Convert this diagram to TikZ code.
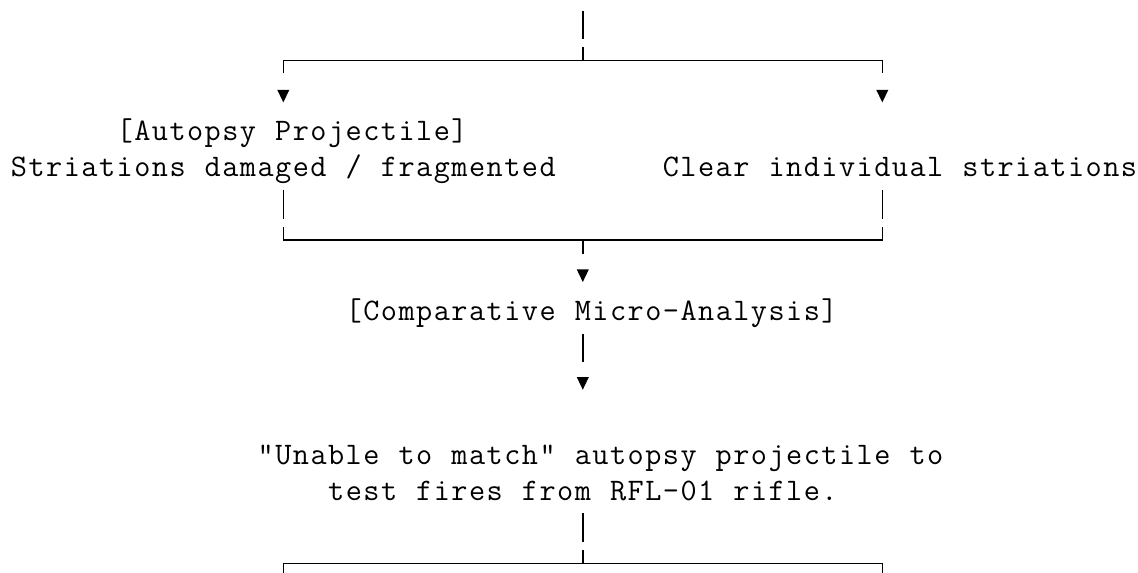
\documentclass[tikz,border=0pt]{standalone}
\ExplSyntaxOn
\NewDocumentCommand\monoline{m}
  { \str_map_inline:nn {#1} { \makebox[13.215pt][c]{##1} } }
\ExplSyntaxOff
\tikzset{
  conn/.style={line width=1.2pt, line join=miter, line cap=butt},
  txt/.style={inner sep=0pt, outer sep=0pt, anchor=base west,
    font=\ttfamily\fontsize{23.5}{28}\selectfont},
  downtri/.pic={\fill (-6,-6.5) -- (6,-6.5) -- (0,6) -- cycle;}
}
\begin{document}
\begin{tikzpicture}[x=0.75pt,y=-0.75pt]
\useasboundingbox (0,0) rectangle (1138,573);
% ---- texts
\node[txt] (autopsy) at (115.9,140.9) {\monoline{[Autopsy Projectile]}};
\node[txt] (damaged) at (10.2,176.8) {\monoline{Striations damaged / fragmented}};
\node[txt] (clear)   at (662.1,176.8) {\monoline{Clear individual striations}};
\node[txt] (compare) at (345.0,320.5) {\monoline{[Comparative Micro-Analysis]}};
\node[txt] (unable1) at (256.9,464.1) {\monoline{"Unable to match" autopsy projectile to}};
\node[txt] (unable2) at (327.4,500.0) {\monoline{test fires from RFL-01 rifle.}};
% ---- junction coordinates
\coordinate (in0) at (582.8,10.6);  \coordinate (in1) at (582.8,39.1);
\coordinate (s1)  at (582.8,47.0);  \coordinate (j1)  at (582.8,60.5);
\coordinate (L1)  at (283.3,60.5);  \coordinate (R1)  at (882.3,60.5);
\coordinate (L1d) at (283.3,73.5);  \coordinate (R1d) at (882.3,73.5);
\coordinate (L5a) at (283.3,190.2); \coordinate (L5b) at (283.3,218.7);
\coordinate (R5a) at (882.3,190.2); \coordinate (R5b) at (882.3,218.7);
\coordinate (L6u) at (283.3,227.1); \coordinate (R6u) at (882.3,227.1);
\coordinate (L6)  at (283.3,240.1); \coordinate (R6)  at (882.3,240.1);
\coordinate (j6)  at (582.8,240.1); \coordinate (j6d) at (582.8,254.1);
\coordinate (m9a) at (582.8,333.8); \coordinate (m9b) at (582.8,362.3);
\coordinate (m14a) at (582.8,513.3); \coordinate (m14b) at (582.8,541.8);
\coordinate (s15) at (582.8,549.8); \coordinate (j15) at (582.8,563.3);
\coordinate (L15) at (283.3,563.3); \coordinate (R15) at (882.3,563.3);
\coordinate (L15d) at (283.3,576.3); \coordinate (R15d) at (882.3,576.3);
% ---- connectors
\draw[conn] (in0) -- (in1);
\draw[conn] (s1) -- (j1);
\draw[conn] (L1d) -- (L1) -- (R1) -- (R1d);
\pic (ta) at (283.3,96.4) {downtri};
\pic (tb) at (882.3,96.4) {downtri};
\draw[conn] (L5a) -- (L5b);
\draw[conn] (R5a) -- (R5b);
\draw[conn] (L6u) -- (L6) -- (R6) -- (R6u);
\draw[conn] (j6) -- (j6d);
\pic (tc) at (582.8,276.0) {downtri};
\draw[conn] (m9a) -- (m9b);
\pic (td) at (582.8,383.7) {downtri};
\draw[conn] (m14a) -- (m14b);
\draw[conn] (s15) -- (j15);
\draw[conn] (L15d) -- (L15) -- (R15) -- (R15d);
\end{tikzpicture}
\end{document}
